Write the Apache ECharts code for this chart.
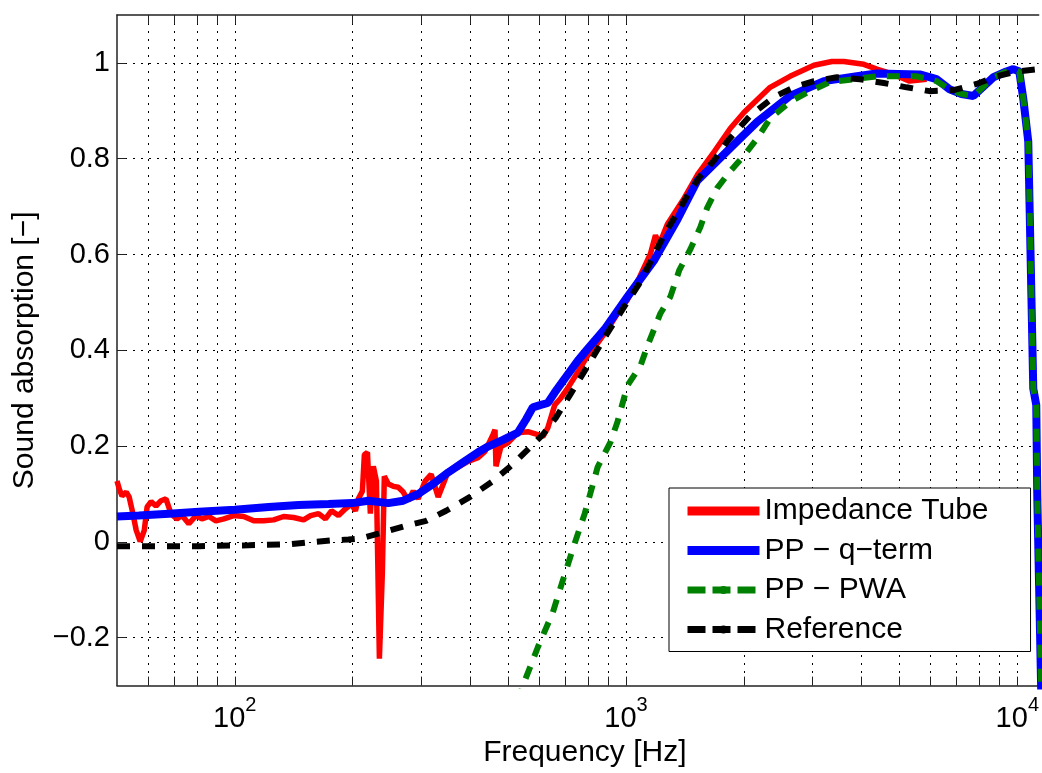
<!DOCTYPE html>
<html>
<head>
<meta charset="utf-8">
<script src="https://cdn.jsdelivr.net/npm/echarts@6/dist/echarts.min.js"></script>
<style>
html,body{margin:0;padding:0;background:#fff;}
#chart{width:1042px;height:773px;}
</style>
</head>
<body>
<div id="chart"></div>
<script>
// ---- Data (frequency in Hz, absorption coefficient) ----
const tubeFreq = [50,50.7,51.5,52.8,53.7,54.7,56.0,57.3,58.7,59.7,61.1,62.9,64.8,66.7,68.7,71.1,73.3,76.3,79.6,82.4,85.9,89.5,93.8,99.4,105.4,111.8,118.5,125.7,133.3,141.4,149.9,156.2,163.7,170.5,176.6,184.1,191.8,198.7,203.4,207.0,211.9,214.4,218.3,222.1,226.0,230.1,234.2,238.3,241.1,246.8,254.2,261.7,269.5,277.5,285.8,294.3,306.6,317.6,331.0,351.0,372.1,394.7,418.5,436.0,457.0,462.4,465.1,478.9,499.0,529.1,561.0,595.0,612.9,631.0,657.4,680.8,709.6,752.3,797.8,846.0,897.2,951.3,1008.8,1082,1154,1189,1217,1275,1409,1521,1681,1846,2004,2335,2625,3022,3358,3603,4052,4374,4833,5307,5864];
const tubeAbs  = [0.127,0.110,0.096,0.104,0.094,0.065,0.024,0.001,0.024,0.073,0.084,0.075,0.086,0.090,0.059,0.048,0.055,0.038,0.055,0.048,0.053,0.044,0.048,0.055,0.053,0.044,0.044,0.046,0.053,0.051,0.046,0.055,0.059,0.048,0.065,0.055,0.069,0.079,0.065,0.090,0.106,0.182,0.187,0.059,0.158,0.127,-0.244,-0.065,0.137,0.121,0.116,0.114,0.104,0.086,0.106,0.090,0.127,0.141,0.094,0.147,0.156,0.168,0.176,0.189,0.224,0.234,0.158,0.199,0.207,0.228,0.230,0.224,0.220,0.238,0.286,0.300,0.321,0.354,0.389,0.415,0.444,0.477,0.506,0.552,0.601,0.640,0.622,0.663,0.718,0.766,0.815,0.863,0.897,0.949,0.972,0.995,1.003,1.003,0.997,0.987,0.976,0.962,0.966];

const qtermFreq = [50,56.9,67.9,81.0,100,122.1,145.6,173.6,199.8,219.5,246.8,269.5,294.3,321.4,351.0,383.2,418.5,443.8,484.6,529.1,554.5,577.8,605.7,631.0,657.4,697.1,752.3,797.8,881.5,1008.8,1182,1353,1521,1846,2163,2625,3204,3890,4374,5628,6218,6711,7200,7724,8687,9376,9768,10118,10358,10666,10856,10985,11180,11245,11510];
const qtermAbs  = [0.053,0.055,0.059,0.063,0.067,0.073,0.077,0.079,0.081,0.086,0.081,0.086,0.100,0.121,0.145,0.166,0.187,0.199,0.213,0.228,0.255,0.281,0.286,0.290,0.312,0.341,0.378,0.403,0.444,0.512,0.589,0.673,0.754,0.822,0.877,0.931,0.962,0.972,0.978,0.976,0.966,0.945,0.935,0.931,0.970,0.982,0.987,0.982,0.925,0.836,0.527,0.320,0.286,0.100,-0.310];

const pwaFreq = [529,545,595,650,689,739,784,846,913,951,1009,1089,1134,1224,1298,1369,1460,1548,1613,1711,1846,2004,2163,2335,2625,2952,3319,3821,4374,5531,6218,6711,7200,7724,8687,9376,9768,10118,10358,10666,10856,10985,11180,11245,11510];
const pwaAbs  = [-0.333,-0.300,-0.220,-0.147,-0.081,-0.003,0.059,0.156,0.209,0.251,0.327,0.368,0.409,0.477,0.512,0.568,0.611,0.657,0.698,0.739,0.774,0.807,0.842,0.884,0.919,0.941,0.960,0.966,0.972,0.972,0.962,0.945,0.935,0.931,0.970,0.982,0.987,0.982,0.925,0.836,0.527,0.320,0.286,0.100,-0.310];

const refFreq = [50,60.4,81.0,108.6,137.3,154.3,176.6,195.1,209.4,239.7,269.5,308.4,346.9,399.4,457.0,513.8,567.6,612.9,661.3,718.0,807.2,886.7,991.3,1089,1182,1253,1329,1435,1548,1681,1814,2076,2389,2688,3022,3458,3959,4557,5214,5967,6868,7864,8843,9943,11311,12578];
const refAbs  = [-0.009,-0.009,-0.009,-0.007,-0.005,-0.001,0.003,0.005,0.007,0.020,0.032,0.044,0.065,0.094,0.127,0.162,0.197,0.224,0.259,0.306,0.374,0.430,0.492,0.543,0.601,0.642,0.677,0.723,0.764,0.797,0.836,0.890,0.929,0.949,0.962,0.970,0.966,0.958,0.949,0.941,0.943,0.956,0.972,0.982,0.987,0.987];

const seriesNames = ['Impedance Tube', 'PP \u2212 q\u2212term', 'PP \u2212 PWA', 'Reference'];

// ---- Axis ticks ----
const xGridTicks = [60,70,80,90,100,200,300,400,500,600,700,800,900,1000,2000,3000,4000,5000,6000,7000,8000,9000,10000];
const xLabelTicks = [100,1000,10000];
const yTicks = [-0.2,0,0.2,0.4,0.6,0.8,1];

const xMin = 50, xMax = 11340, yMin = -0.3, yMax = 1.1;

function pairs(xs, ys){ return xs.map((x,i)=>[x, ys[i]]); }

const FONT = '"Liberation Sans", Arial, Helvetica, sans-serif';
const gridLine = {show:true, lineStyle:{color:'#000', width:1, type:[2,6]}};
const axisLineStyle = {show:true, onZero:false, lineStyle:{color:'#222', width:1.5}};

const chart = echarts.init(document.getElementById('chart'), null, {renderer:'canvas'});
chart.setOption({
  animation:false,
  backgroundColor:'#fff',
  grid:{left:117, right:0, top:15, bottom:79, containLabel:false},
  legend:{
    orient:'vertical', left:669, top:488,
    backgroundColor:'#fff', borderColor:'#000', borderWidth:1, borderRadius:0,
    padding:[8,42,7,14], itemWidth:72, itemHeight:10, itemGap:9.5,
    textStyle:{fontFamily:FONT, fontSize:30, color:'#000'},
    data:[
      {name:seriesNames[0], lineStyle:{width:9}},
      {name:seriesNames[1], lineStyle:{width:9}},
      {name:seriesNames[2], lineStyle:{width:7, type:[18,7]}},
      {name:seriesNames[3], lineStyle:{width:7, type:[18,7]}}
    ]
  },
  xAxis:[{
    type:'log', logBase:10, min:xMin, max:xMax, position:'bottom',
    name:'Frequency [Hz]', nameLocation:'middle', nameGap:46,
    nameTextStyle:{fontFamily:FONT, fontSize:30, color:'#000', padding:[0,0,0,14]},
    axisLine:axisLineStyle,
    axisTick:{show:true, inside:true, length:9, customValues:xGridTicks, lineStyle:{color:'#222', width:1}},
    axisLabel:{show:true, customValues:xLabelTicks, margin:10,
      formatter:function(v){ return '{b|10}{s|' + Math.round(Math.log10(v)) + '}'; },
      rich:{
        b:{fontFamily:FONT, fontSize:29, color:'#000'},
        s:{fontFamily:FONT, fontSize:20, color:'#000', padding:[0,0,26,0]}
      }
    },
    splitLine:gridLine,
    minorTick:{show:false}, minorSplitLine:{show:false}
  },{
    type:'log', logBase:10, min:xMin, max:xMax, position:'top',
    axisLine:axisLineStyle,
    axisTick:{show:true, inside:true, length:9, customValues:xGridTicks, lineStyle:{color:'#222', width:1}},
    axisLabel:{show:false},
    splitLine:{show:false}
  }],
  yAxis:[{
    type:'value', min:yMin, max:yMax, position:'left',
    name:'Sound absorption [\u2212]', nameLocation:'middle', nameGap:77,
    nameTextStyle:{fontFamily:FONT, fontSize:30, color:'#000'},
    axisLine:axisLineStyle,
    axisTick:{show:true, inside:true, length:9, customValues:yTicks, lineStyle:{color:'#222', width:1}},
    axisLabel:{show:true, customValues:yTicks, margin:7, fontFamily:FONT, fontSize:29, color:'#000',
      formatter:function(v){
        if (Math.abs(v) < 1e-9) return '0';
        const s = (Math.round(v*10)/10).toString();
        return s.replace('-', '\u2212');
      }
    },
    splitLine:gridLine
  }],
  series:[
    {name:seriesNames[0], type:'line', data:pairs(tubeFreq, tubeAbs), symbol:'none', showSymbol:false,
     lineStyle:{color:'#ff0000', width:5.5}, itemStyle:{color:'#ff0000'}, clip:true},
    {name:seriesNames[1], type:'line', data:pairs(qtermFreq, qtermAbs), symbol:'none', showSymbol:false,
     lineStyle:{color:'#0000ff', width:8}, itemStyle:{color:'#0000ff'}, clip:true},
    {name:seriesNames[2], type:'line', data:pairs(pwaFreq, pwaAbs), symbol:'none', showSymbol:false,
     lineStyle:{color:'#008000', width:6, type:[13,11]}, itemStyle:{color:'#008000'}, clip:true},
    {name:seriesNames[3], type:'line', data:pairs(refFreq, refAbs), symbol:'none', showSymbol:false,
     lineStyle:{color:'#000000', width:6, type:[13,12]}, itemStyle:{color:'#000000'}, clip:true}
  ]
});
</script>
</body>
</html>
